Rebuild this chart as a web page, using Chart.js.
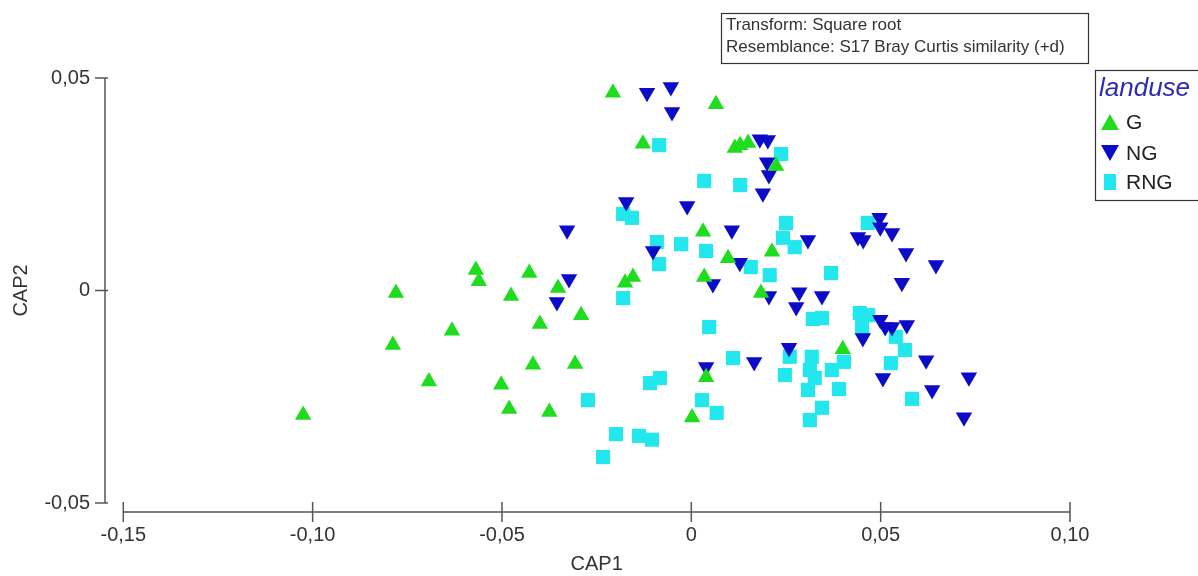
<!DOCTYPE html>
<html lang="en">
<head>
<meta charset="UTF-8">
<title>CAP ordination - landuse</title>
<script src="https://cdn.jsdelivr.net/npm/chart.js"></script>
<style>
  html, body { margin: 0; padding: 0; background: #fff; }
  #wrap { position: relative; width: 1198px; height: 576px; }
</style>
</head>
<body>
<div id="wrap"><canvas id="capChart" width="1198" height="576"></canvas></div>
<script>
// CAP1 / CAP2 scores per group
const gPoints = [
  [-0.1025, -0.0293], [-0.0780, -0.0006], [-0.0788, -0.0128], [-0.0693, -0.0214],
  [-0.0632, -0.0095], [-0.0569, 0.0048], [-0.0561, 0.0022], [-0.0428, 0.0041],
  [-0.0476, -0.0013], [-0.0352, 0.0006], [-0.0291, -0.0058], [-0.0400, -0.0079],
  [-0.0418, -0.0175], [-0.0307, -0.0173], [-0.0502, -0.0222], [-0.0481, -0.0279],
  [-0.0375, -0.0286], [-0.0207, 0.0465], [-0.0128, 0.0345], [0.0065, 0.0438],
  [0.0129, 0.0342], [0.0150, 0.0347], [0.0115, 0.0335], [0.0224, 0.0293],
  [-0.0154, 0.0032], [-0.0175, 0.0018], [0.0031, 0.0138], [0.0097, 0.0076],
  [0.0213, 0.0091], [0.0034, 0.0032], [0.0184, -0.0006], [0.0039, -0.0204],
  [0.0002, -0.0299], [0.0400, -0.0138]
];
const ngPoints = [
  [-0.0117, 0.0465], [-0.0054, 0.0479], [-0.0051, 0.0420], [0.0181, 0.0356],
  [0.0202, 0.0354], [0.0200, 0.0302], [0.0205, 0.0272], [0.0189, 0.0229],
  [-0.0172, 0.0208], [-0.0011, 0.0199], [-0.0328, 0.0142], [0.0107, 0.0142],
  [0.0308, 0.0119], [-0.0101, 0.0093], [0.0128, 0.0065], [0.0057, 0.0015],
  [-0.0323, 0.0027], [-0.0355, -0.0027], [0.0205, -0.0013], [0.0285, -0.0004],
  [0.0277, -0.0039], [0.0345, -0.0013], [0.0440, 0.0126], [0.0454, 0.0119],
  [0.0499, 0.0149], [0.0497, 0.0171], [0.0530, 0.0135], [0.0567, 0.0088],
  [0.0646, 0.0060], [0.0556, 0.0018], [0.0453, -0.0112], [0.0499, -0.0069],
  [0.0512, -0.0086], [0.0530, -0.0086], [0.0569, -0.0081], [0.0620, -0.0164],
  [0.0506, -0.0206], [0.0636, -0.0234], [0.0733, -0.0204], [0.0720, -0.0298],
  [0.0258, -0.0135], [0.0166, -0.0168], [0.0039, -0.0180]
];
const rngPoints = [
  [-0.0085, 0.0342], [0.0237, 0.0321], [0.0034, 0.0258], [0.0129, 0.0248],
  [-0.0180, 0.0180], [-0.0157, 0.0171], [0.0250, 0.0159], [0.0242, 0.0124],
  [0.0273, 0.0102], [-0.0091, 0.0114], [-0.0027, 0.0109], [0.0039, 0.0093],
  [-0.0085, 0.0062], [0.0157, 0.0055], [0.0207, 0.0036], [0.0369, 0.0041],
  [0.0466, 0.0159], [-0.0180, -0.0018], [0.0047, -0.0086], [0.0110, -0.0159],
  [0.0321, -0.0067], [0.0345, -0.0065], [0.0445, -0.0053], [0.0467, -0.0058],
  [0.0451, -0.0086], [0.0540, -0.0109], [0.0564, -0.0140], [0.0527, -0.0171],
  [0.0583, -0.0255], [0.0260, -0.0156], [0.0247, -0.0199], [0.0318, -0.0156],
  [0.0313, -0.0187], [0.0326, -0.0206], [0.0308, -0.0234], [0.0345, -0.0276],
  [0.0313, -0.0305], [0.0371, -0.0187], [0.0390, -0.0232], [0.0403, -0.0168],
  [0.0028, -0.0258], [0.0067, -0.0288], [-0.0109, -0.0218], [-0.0083, -0.0206],
  [-0.0273, -0.0258], [-0.0199, -0.0338], [-0.0138, -0.0342], [-0.0104, -0.0351],
  [-0.0233, -0.0392]
];

const groups = ['G', 'NG', 'RNG'];
const xTicks = [-0.15, -0.10, -0.05, 0, 0.05, 0.10];
const xTickLabels = ['-0,15', '-0,10', '-0,05', '0', '0,05', '0,10'];
const yTicks = [-0.05, 0, 0.05];
const yTickLabels = ['-0,05', '0', '0,05'];

const colors = { G: '#1fdc1f', NG: '#0c0cc8', RNG: '#22e8ee' };
const FONT = 'Liberation Sans, Arial, sans-serif';

function toXY(list) {
  return list.map(p => ({ x: p[0], y: p[1] }));
}

// axes drawn PRIMER style (detached), axis titles, info box and legend
const decorations = {
  id: 'decorations',
  afterDraw(chart) {
    const ctx = chart.ctx;
    const xs = chart.scales.x, ys = chart.scales.y;
    const area = chart.chartArea;
    ctx.save();
    ctx.strokeStyle = '#555';
    ctx.lineWidth = 1.5;
    ctx.beginPath();
    // y axis
    const ax = area.left;
    const yTop = ys.getPixelForValue(yTicks[yTicks.length - 1]);
    const yBot = ys.getPixelForValue(yTicks[0]);
    ctx.moveTo(ax, yTop);
    ctx.lineTo(ax, yBot);
    yTicks.forEach(v => {
      const p = ys.getPixelForValue(v);
      ctx.moveTo(ax - 10, p);
      ctx.lineTo(ax + 3, p);
    });
    // x axis
    const ay = area.bottom;
    const xLeft = xs.getPixelForValue(xTicks[0]);
    const xRight = xs.getPixelForValue(xTicks[xTicks.length - 1]);
    ctx.moveTo(xLeft, ay);
    ctx.lineTo(xRight, ay);
    xTicks.forEach(v => {
      const p = xs.getPixelForValue(v);
      ctx.moveTo(p, ay - 10);
      ctx.lineTo(p, ay + 10);
    });
    ctx.stroke();

    // axis titles
    ctx.fillStyle = '#333';
    ctx.font = '20px ' + FONT;
    ctx.textAlign = 'center';
    ctx.textBaseline = 'middle';
    ctx.fillText('CAP1', (xLeft + xRight) / 2, 564);
    ctx.save();
    ctx.translate(21, (yTop + yBot) / 2);
    ctx.rotate(-Math.PI / 2);
    ctx.fillText('CAP2', 0, 0);
    ctx.restore();

    // info box
    ctx.lineWidth = 1.2;
    ctx.strokeStyle = '#333';
    ctx.strokeRect(721.5, 13.5, 367, 50);
    ctx.textAlign = 'left';
    ctx.font = '17px ' + FONT;
    ctx.fillText('Transform: Square root', 726, 25);
    ctx.fillText('Resemblance: S17 Bray Curtis similarity (+d)', 726, 47);

    // legend
    ctx.strokeRect(1095.5, 70.5, 120, 130);
    ctx.fillStyle = '#2b2bb5';
    ctx.font = 'italic 26px ' + FONT;
    ctx.fillText('landuse', 1099, 89);
    const rows = [122, 153, 182];
    groups.forEach((g, i) => {
      const cx = 1110, cy = rows[i];
      ctx.fillStyle = colors[g];
      ctx.beginPath();
      if (g === 'G') {
        ctx.moveTo(cx, cy - 8); ctx.lineTo(cx + 9, cy + 8); ctx.lineTo(cx - 9, cy + 8);
      } else if (g === 'NG') {
        ctx.moveTo(cx - 9, cy - 8); ctx.lineTo(cx + 9, cy - 8); ctx.lineTo(cx, cy + 8);
      } else {
        ctx.rect(cx - 6, cy - 8, 12, 16);
      }
      ctx.closePath();
      ctx.fill();
      ctx.fillStyle = '#222';
      ctx.font = '21px ' + FONT;
      ctx.fillText(g, 1126, cy + 1);
    });
    ctx.restore();
  }
};

new Chart(document.getElementById('capChart').getContext('2d'), {
  type: 'scatter',
  data: {
    datasets: [
      {
        label: 'G', data: toXY(gPoints),
        pointStyle: 'triangle', pointRadius: 9.5, pointHoverRadius: 9.5,
        backgroundColor: colors.G, borderColor: colors.G, borderWidth: 0, clip: false
      },
      {
        label: 'NG', data: toXY(ngPoints),
        pointStyle: 'triangle', rotation: 180, pointRadius: 9.5, pointHoverRadius: 9.5,
        backgroundColor: colors.NG, borderColor: colors.NG, borderWidth: 0, clip: false
      },
      {
        label: 'RNG', data: toXY(rngPoints),
        pointStyle: 'rect', pointRadius: 10, pointHoverRadius: 10,
        backgroundColor: colors.RNG, borderColor: colors.RNG, borderWidth: 0, clip: false
      }
    ]
  },
  options: {
    responsive: false,
    animation: false,
    devicePixelRatio: 1,
    layout: { padding: { left: 0, right: 128, top: 78, bottom: 0 } },
    plugins: {
      legend: { display: false },
      tooltip: { enabled: false }
    },
    scales: {
      x: {
        type: 'linear',
        min: -0.15483,
        max: 0.10,
        afterBuildTicks: scale => { scale.ticks = xTicks.map(v => ({ value: v })); },
        afterFit: scale => { scale.height = 64; },
        grid: { display: false, drawTicks: false },
        border: { display: false },
        ticks: {
          padding: 11,
          color: '#333',
          font: { family: FONT, size: 20 },
          autoSkip: false,
          maxRotation: 0,
          callback: (v, i) => xTickLabels[i]
        }
      },
      y: {
        type: 'linear',
        min: -0.05212,
        max: 0.05,
        afterBuildTicks: scale => { scale.ticks = yTicks.map(v => ({ value: v })); },
        afterFit: scale => { scale.width = 105; },
        grid: { display: false, drawTicks: false },
        border: { display: false },
        ticks: {
          padding: 15,
          color: '#333',
          font: { family: FONT, size: 20 },
          autoSkip: false,
          callback: (v, i) => yTickLabels[i]
        }
      }
    }
  },
  plugins: [decorations]
});
</script>
</body>
</html>
